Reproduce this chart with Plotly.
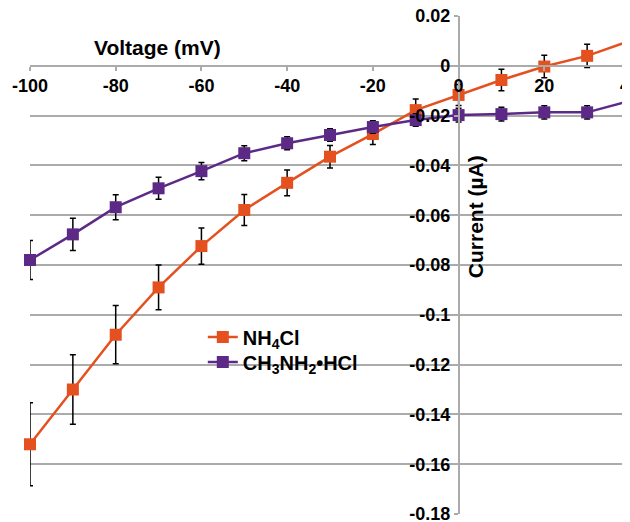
import plotly.graph_objects as go

voltage = [-100, -90, -80, -70, -60, -50, -40, -30, -20, -10, 0, 10, 20, 30, 40]

nh4cl = [-0.152, -0.130, -0.108, -0.089, -0.0724, -0.0579, -0.047, -0.0365, -0.0274,
         -0.0178, -0.0117, -0.0057, -0.0003, 0.004, 0.010]
nh4cl_err = [0.0167, 0.014, 0.0117, 0.009, 0.0073, 0.0062, 0.0052, 0.0045, 0.0042,
             0.0045, 0.0042, 0.0043, 0.0045, 0.0047, 0.0045]

ch3 = [-0.078, -0.0677, -0.0568, -0.0492, -0.0423, -0.0351, -0.0311, -0.0278, -0.0246,
       -0.0218, -0.0198, -0.0194, -0.0187, -0.0187, -0.0141]
ch3_err = [0.0078, 0.0065, 0.005, 0.0044, 0.0035, 0.003, 0.0026, 0.0025, 0.0025,
           0.0025, 0.0028, 0.0028, 0.0027, 0.0027, 0.0027]

x_ticks = [-100, -80, -60, -40, -20, 0, 20, 40]
x_labels = ["-100", "-80", "-60", "-40", "-20", "0", "20", "40"]
y_ticks = [0.02, 0, -0.02, -0.04, -0.06, -0.08, -0.1, -0.12, -0.14, -0.16, -0.18]
y_labels = ["0.02", "0", "-0.02", "-0.04", "-0.06", "-0.08", "-0.1", "-0.12", "-0.14", "-0.16", "-0.18"]

ORANGE = "#E5501F"
PURPLE = "#5C2A86"
GRID = "#ABABAB"
FONT = "Liberation Sans"

fig = go.Figure()
fig.add_trace(go.Scatter(
    x=voltage, y=nh4cl, mode="lines+markers", name="NH<sub>4</sub>Cl",
    line=dict(color=ORANGE, width=2.5), cliponaxis=False, legend="legend",
    marker=dict(symbol="square", size=12, color=ORANGE),
    error_y=dict(type="data", array=nh4cl_err, color="black", thickness=1.5, width=3),
))
fig.add_trace(go.Scatter(
    x=voltage, y=ch3, mode="lines+markers", name="CH<sub>3</sub>NH<sub>2</sub>•HCl",
    line=dict(color=PURPLE, width=2.5), cliponaxis=False, legend="legend2",
    marker=dict(symbol="square", size=12, color=PURPLE),
    error_y=dict(type="data", array=ch3_err, color="black", thickness=1.5, width=3),
))

tick_font = dict(family=FONT, size=18, color="black", weight="bold")
legend_font = dict(family=FONT, size=20, color="black", weight="bold")

# page body has an 8px margin: figure is 622x514, plot area 600x498
fig.update_layout(
    width=622, height=514,
    margin=dict(l=22, r=0, t=8, b=8, autoexpand=False),
    paper_bgcolor="white", plot_bgcolor="white",
    showlegend=True,
    legend=dict(x=0.288, y=0.3554, xanchor="left", yanchor="middle",
                bgcolor="rgba(0,0,0,0)", itemwidth=30, font=legend_font),
    legend2=dict(x=0.288, y=0.3052, xanchor="left", yanchor="middle",
                 bgcolor="rgba(0,0,0,0)", itemwidth=30, font=legend_font),
    xaxis=dict(
        range=[-100, 40], anchor="free", position=0.9, automargin=False,
        tickvals=x_ticks, ticktext=x_labels, tickfont=tick_font,
        ticks="outside", ticklen=4, tickcolor=GRID, tickwidth=1.5,
        showline=True, linecolor=GRID, linewidth=1.5,
        showgrid=False, zeroline=False, ticklabeloverflow="allow",
    ),
    yaxis=dict(
        range=[-0.18, 0.02], anchor="free", position=100/140, automargin=False,
        tickvals=y_ticks, ticktext=y_labels, tickfont=tick_font,
        ticks="outside", ticklen=4, tickcolor=GRID, tickwidth=1.5,
        showline=True, linecolor=GRID, linewidth=1.5,
        showgrid=True, gridcolor=GRID, gridwidth=1.5, zeroline=False,
        ticklabeloverflow="allow",
    ),
    annotations=[
        dict(text="Voltage (mV)", xref="paper", yref="paper", x=0.213, y=0.936,
             showarrow=False, xanchor="center", yanchor="middle",
             font=dict(family=FONT, size=21, color="black", weight="bold")),
        dict(text="Current (µA)", xref="paper", yref="paper", x=0.7417, y=0.596,
             showarrow=False, xanchor="center", yanchor="middle", textangle=-90,
             font=dict(family=FONT, size=21, color="black", weight="bold")),
    ],
)

fig.write_html("out.html")
